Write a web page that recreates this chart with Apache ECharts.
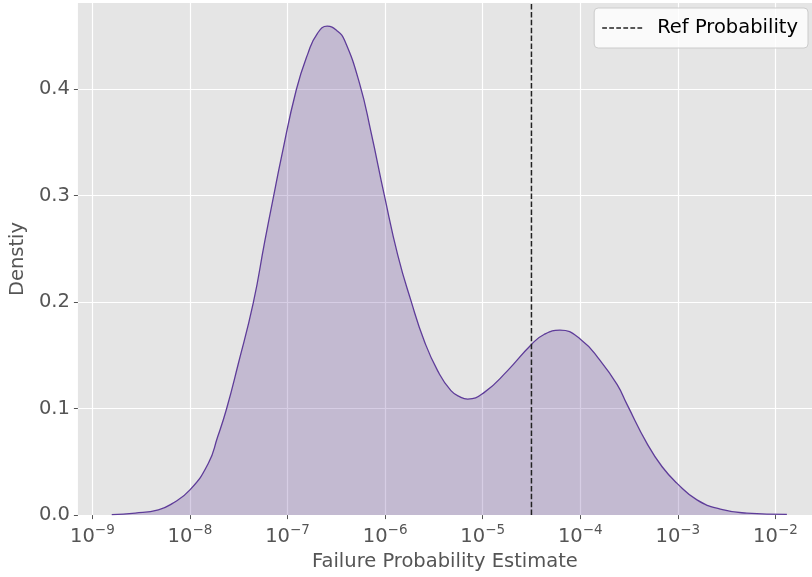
<!DOCTYPE html>
<html>
<head>
<meta charset="utf-8">
<script src="https://cdn.jsdelivr.net/npm/echarts@6/dist/echarts.min.js"></script>
<style>
  html, body { margin: 0; padding: 0; background: #ffffff; }
  #chart { width: 812px; height: 577px; }
</style>
</head>
<body>
<div id="chart"></div>
<script>
// Kernel density of the failure probability estimates (x on a log scale)
const probability = [
  1.58e-9, 2.75e-9, 4.75e-9, 6.50e-9, 1.0e-8, 1.54e-8, 1.92e-8, 2.37e-8, 3.12e-8, 4.45e-8,
  5.83e-8, 7.11e-8, 8.65e-8, 1.23e-7, 1.62e-7, 2.02e-7, 2.55e-7, 3.23e-7, 3.84e-7, 5.46e-7,
  7.19e-7, 9.84e-7, 1.35e-6, 1.85e-6, 2.52e-6, 3.46e-6, 4.73e-6, 5.98e-6, 7.01e-6, 1.04e-5,
  1.79e-5, 3.16e-5, 4.25e-5, 6.19e-5, 1.01e-4, 1.61e-4, 2.39e-4, 3.03e-4, 4.84e-4, 6.90e-4,
  9.82e-4, 1.57e-3, 2.72e-3, 5.09e-3, 1.31e-2
];
const density = [
  0.0004, 0.0019, 0.005, 0.0105, 0.0237, 0.0485, 0.0733, 0.0997, 0.1417, 0.199,
  0.2566, 0.297, 0.336, 0.3995, 0.4337, 0.4523, 0.4592, 0.4548, 0.446, 0.4058,
  0.3592, 0.300, 0.244, 0.2007, 0.1635, 0.1355, 0.1169, 0.1106, 0.109, 0.1153,
  0.1355, 0.1603, 0.1696, 0.1737, 0.165, 0.1448, 0.1225, 0.1035, 0.0671, 0.0454,
  0.0298, 0.0143, 0.0056, 0.0019, 0.0006
];
const refProbability = 3.16e-5;
const xTickValues = [1e-9, 1e-8, 1e-7, 1e-6, 1e-5, 1e-4, 1e-3, 1e-2];
const yTickValues = [0.0, 0.1, 0.2, 0.3, 0.4];

const xMin = 7.11e-10;
const xMax = 2.37e-2;
const yMax = 0.481;

const curveData = probability.map((p, i) => [p, density[i]]);
const refData = [[refProbability, 0], [refProbability, yMax]];

const tickColor = '#555555';
const fontFamily = 'DejaVu Sans';

// dashed line glyph for the legend entry
const dashIcon = 'path://' + [0, 1, 2, 3, 4, 5]
  .map(i => 'M' + (i * 7.4) + ',0h5v1.5h-5z').join(' ');

const chart = echarts.init(document.getElementById('chart'), null, { renderer: 'canvas' });

chart.setOption({
  animation: false,
  textStyle: { fontFamily: fontFamily },
  grid: {
    left: 76, right: 0, top: 3, bottom: 58,
    show: true, backgroundColor: '#E5E5E5', borderWidth: 0
  },
  legend: {
    data: [{ name: 'Ref Probability', icon: dashIcon }],
    right: 4, top: 8,
    orient: 'vertical',
    itemWidth: 40, itemHeight: 1.5,
    padding: [10, 10, 10, 8],
    backgroundColor: 'rgba(255,255,255,0.8)',
    borderColor: '#cccccc', borderWidth: 1, borderRadius: 4,
    textStyle: { fontSize: 19.5, color: '#000000', fontFamily: fontFamily, padding: [0, 0, 0, 10] }
  },
  xAxis: {
    type: 'log',
    logBase: 10,
    min: xMin,
    max: xMax,
    name: 'Failure Probability Estimate',
    nameLocation: 'middle',
    nameGap: 35,
    nameTextStyle: { fontSize: 19.5, color: tickColor, fontFamily: fontFamily },
    axisLine: { show: false },
    axisTick: { show: true, customValues: xTickValues, length: 4, lineStyle: { color: tickColor, width: 1 } },
    axisLabel: {
      customValues: xTickValues,
      margin: 8,
      color: tickColor,
      formatter: v => '{b|10}{s|−' + Math.abs(Math.round(Math.log10(v))) + '}',
      rich: {
        b: { fontSize: 19.5, color: tickColor, fontFamily: fontFamily, lineHeight: 24, verticalAlign: 'bottom' },
        s: { fontSize: 13.5, color: tickColor, fontFamily: fontFamily, lineHeight: 24, verticalAlign: 'top', padding: [0, 0, 10, 0] }
      }
    },
    splitLine: { show: true, customValues: xTickValues, lineStyle: { color: '#ffffff', width: 1.2 } }
  },
  yAxis: {
    type: 'value',
    min: 0,
    max: yMax,
    name: 'Denstiy',
    nameLocation: 'middle',
    nameRotate: 90,
    nameGap: 47,
    nameTextStyle: { fontSize: 19.5, color: tickColor, fontFamily: fontFamily },
    axisLine: { show: false },
    axisTick: { show: true, customValues: yTickValues, length: 4, lineStyle: { color: tickColor, width: 1 } },
    axisLabel: {
      customValues: yTickValues,
      margin: 8,
      fontSize: 19.5,
      color: tickColor,
      formatter: v => v.toFixed(1)
    },
    splitLine: { show: true, lineStyle: { color: '#ffffff', width: 1.2 } },
    interval: 0.1
  },
  series: [
    {
      name: 'Density',
      type: 'line',
      data: curveData,
      smooth: 0.5,
      symbol: 'none',
      lineStyle: { color: '#5E3C99', width: 1.3 },
      itemStyle: { color: '#5E3C99' },
      areaStyle: { color: 'rgba(94,60,153,0.25)', opacity: 1, origin: 'start' },
      z: 2
    },
    {
      name: 'Ref Probability',
      type: 'line',
      data: refData,
      symbol: 'none',
      lineStyle: { color: '#222222', width: 1.5, type: [5.5, 2.4] },
      itemStyle: { color: '#222222' },
      z: 3
    }
  ]
});
</script>
</body>
</html>
